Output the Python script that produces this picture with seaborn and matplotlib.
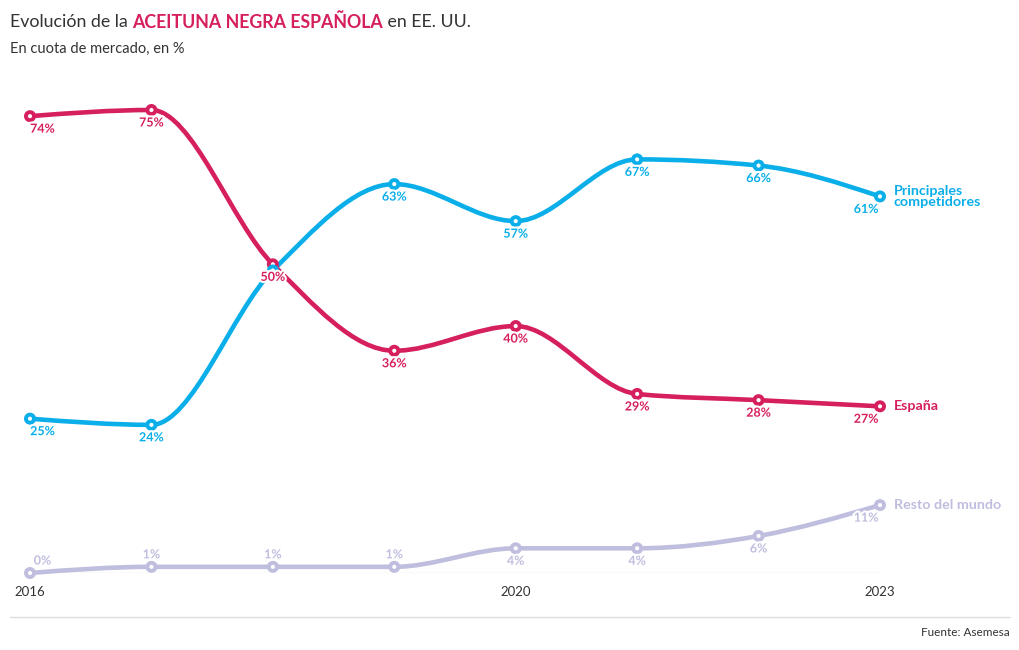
import numpy as np
import pandas as pd
import seaborn as sns
import matplotlib.pyplot as plt
import matplotlib.patheffects as pe
from matplotlib.path import Path
from matplotlib.patches import PathPatch
from matplotlib.lines import Line2D

# data
years = [2016, 2017, 2018, 2019, 2020, 2021, 2022, 2023]
espana = [74, 75, 50, 36, 40, 29, 28, 27]
competidores = [25, 24, 49, 63, 57, 67, 66, 61]
resto = [0, 1, 1, 1, 4, 4, 6, 11]
names = ["España", "Principales\ncompetidores", "Resto del mundo"]
colors = ["#d61f5e", "#0aaee9", "#bfbedf"]
xticks = [2016, 2020, 2023]

sns.set_style("white")
plt.rcParams["font.family"] = ["Lato", "DejaVu Sans"]

df = pd.DataFrame({
    "year": years * 3,
    "value": espana + competidores + resto,
    "serie": [n for n in names for _ in years],
})


def monotone_path(x, y):
    # same curve as d3.curveMonotoneX, as cubic bezier segments
    x = np.asarray(x, float)
    y = np.asarray(y, float)
    n = len(x)
    t = np.zeros(n)
    for i in range(1, n - 1):
        h0, h1 = x[i] - x[i - 1], x[i + 1] - x[i]
        s0, s1 = (y[i] - y[i - 1]) / h0, (y[i + 1] - y[i]) / h1
        p = (s0 * h1 + s1 * h0) / (h0 + h1)
        sg = (-1 if s0 < 0 else 1) + (-1 if s1 < 0 else 1)
        t[i] = sg * min(abs(s0), abs(s1), 0.5 * abs(p))
    t[0] = (3 * (y[1] - y[0]) / (x[1] - x[0]) - t[1]) / 2
    t[-1] = (3 * (y[-1] - y[-2]) / (x[-1] - x[-2]) - t[-2]) / 2
    verts = [(x[0], y[0])]
    codes = [Path.MOVETO]
    for i in range(n - 1):
        dx = (x[i + 1] - x[i]) / 3
        verts += [(x[i] + dx, y[i] + dx * t[i]),
                  (x[i + 1] - dx, y[i + 1] - dx * t[i + 1]),
                  (x[i + 1], y[i + 1])]
        codes += [Path.CURVE4] * 3
    return Path(verts, codes)


fig = plt.figure(figsize=(10.2, 6.5), dpi=100)
ax = fig.add_axes([30 / 1020, 1 - 573 / 650, 850 / 1020, 463 / 650])

halo = [pe.withStroke(linewidth=3, foreground="white")]

for k, (name, col) in enumerate(zip(names, colors)):
    sub = df[df["serie"] == name]
    patch = PathPatch(monotone_path(sub["year"], sub["value"]), facecolor="none",
                      edgecolor=col, lw=3.3, capstyle="round", joinstyle="round",
                      zorder=3 - k * 0.1, clip_on=False)
    ax.add_patch(patch)

sns.scatterplot(data=df, x="year", y="value", hue="serie", palette=colors,
                hue_order=names, s=34, facecolor="white", linewidth=2.8,
                legend=False, zorder=5, clip_on=False, ax=ax)
for coll in ax.collections:
    coll.set_facecolor("white")
    coll.set_edgecolors([c for c in colors for _ in years])

# value labels
for name, col in zip(names, colors):
    sub = df[df["serie"] == name].reset_index(drop=True)
    for i, row in sub.iterrows():
        if name.startswith("Principales") and row["year"] == 2018:
            continue
        dx = 0
        if i == 0:
            dx = 9
        elif i == len(sub) - 1:
            dx = -10
        above = name == "Resto del mundo" and row["value"] < 2
        dy = 9 if above else -9
        ax.annotate(f"{row['value']}%", (row["year"], row["value"]),
                    xytext=(dx, dy), textcoords="offset points",
                    ha="center", va="center", fontsize=9,
                    fontweight="bold", color=col, zorder=6,
                    path_effects=halo, annotation_clip=False)
    last = sub.iloc[-1]
    ax.annotate(name, (last["year"], last["value"]), xytext=(10, 0),
                textcoords="offset points", ha="left", va="center",
                fontsize=10.3, fontweight="bold", color=col,
                linespacing=0.9, annotation_clip=False)

ax.set_xlim(2016, 2023)
ax.set_ylim(0, 75)
ax.axhline(0, color="#e6e6e6", lw=1, zorder=1)
ax.set_xticks(xticks)
ax.set_xticklabels([str(v) for v in xticks])
ax.tick_params(axis="x", length=4, color="#e6e6e6", labelsize=9.5,
               labelcolor="#333333", pad=5)
ax.set_yticks([])
ax.set_xlabel("")
ax.set_ylabel("")
sns.despine(ax=ax, left=True, bottom=True)

# title and notes
fs_title = 12.8
fig.text(10 / 1020, 1 - 22 / 650, "Evolución de la ", fontsize=fs_title,
         color="#333333", va="center")
fig.canvas.draw()
bb = fig.texts[-1].get_window_extent()
fig.text(bb.x1 / 1020, 1 - 22 / 650, "ACEITUNA NEGRA ESPAÑOLA", fontsize=fs_title,
         color=colors[0], fontweight="bold", va="center")
fig.canvas.draw()
bb = fig.texts[-1].get_window_extent()
fig.text(bb.x1 / 1020, 1 - 22 / 650, " en EE. UU.", fontsize=fs_title,
         color="#333333", va="center")
fig.text(10 / 1020, 1 - 49 / 650, "En cuota de mercado, en %", fontsize=10.5,
         color="#333333", va="center")
fig.add_artist(Line2D([10 / 1020, 1010 / 1020], [1 - 617 / 650] * 2,
                      color="#dddddd", lw=1))
fig.text(1010 / 1020, 1 - 633 / 650, "Fuente: Asemesa", fontsize=8.5,
         color="#333333", ha="right", va="center")

fig.savefig("out.png", dpi=100)
